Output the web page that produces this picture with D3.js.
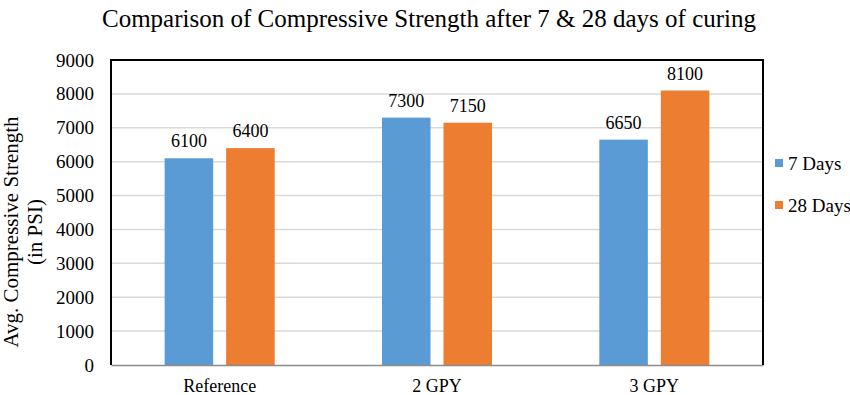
<!DOCTYPE html>
<html>
<head>
<meta charset="utf-8">
<script src="https://cdn.jsdelivr.net/npm/d3@7"></script>
<style>
  body { margin: 0; background: #fff; }
  text { font-family: "Liberation Serif", "Times New Roman", serif; fill: #000; }
</style>
</head>
<body>
<div id="viz"></div>
<script>
// data
var categories = ['Reference', '2 GPY', '3 GPY'];
var seriesNames = ['7 Days', '28 Days'];
var days7 = [6100, 7300, 6650];
var days28 = [6400, 7150, 8100];
var yTicks = [0, 1000, 2000, 3000, 4000, 5000, 6000, 7000, 8000, 9000];
var colors = ['#5B9BD5', '#ED7D31'];

var W = 850, H = 395;
var pLeft = 111, pRight = 763, pTop = 60, pBottom = 365;

var svg = d3.select('#viz')
    .append('svg')
    .attr('width', W)
    .attr('height', H);

var y = d3.scaleLinear().domain([0, 9000]).range([pBottom, pTop]);
var x0 = d3.scaleBand().domain(categories).range([pLeft, pRight]).padding(0);
var x1 = d3.scaleBand().domain(seriesNames).range([0, x0.bandwidth()])
    .paddingInner(0.211).paddingOuter(0.872);

// gridlines
svg.append('g')
    .selectAll('line')
    .data(yTicks.filter(function(d){ return d > 0 && d < 9000; }))
    .enter().append('line')
    .attr('x1', pLeft).attr('x2', pRight)
    .attr('y1', function(d){ return y(d); })
    .attr('y2', function(d){ return y(d); })
    .style('stroke', '#d9d9d9')
    .style('stroke-width', 1.5);

// y tick labels
var yAxis = svg.append('g')
    .attr('transform', 'translate(' + pLeft + ',0)')
    .call(d3.axisLeft(y).tickValues(yTicks).tickSize(0).tickPadding(17).tickFormat(d3.format('d')));
yAxis.select('.domain').remove();
yAxis.selectAll('text')
    .style('font-family', '"Liberation Serif", serif')
    .style('font-size', '19px')
    .style('fill', '#000');

// bars
var rows = categories.map(function(c, i){
    return { cat: c, vals: [days7[i], days28[i]] };
});
var groups = svg.append('g')
    .selectAll('g')
    .data(rows)
    .enter().append('g')
    .attr('transform', function(d){ return 'translate(' + x0(d.cat) + ',0)'; });

var bars = groups.selectAll('rect')
    .data(function(d){
        return d.vals.map(function(v, j){ return { name: seriesNames[j], v: v, j: j }; });
    })
    .enter();

bars.append('rect')
    .attr('x', function(d){ return x1(d.name); })
    .attr('width', x1.bandwidth())
    .attr('y', function(d){ return y(d.v); })
    .attr('height', function(d){ return y(0) - y(d.v); })
    .style('fill', function(d){ return colors[d.j]; });

bars.append('text')
    .attr('x', function(d){ return x1(d.name) + x1.bandwidth() / 2; })
    .attr('y', function(d){ return y(d.v) - 11; })
    .attr('text-anchor', 'middle')
    .style('font-size', '18px')
    .text(function(d){ return d.v; });

// x axis
var xAxis = svg.append('g')
    .attr('transform', 'translate(0,' + pBottom + ')')
    .call(d3.axisBottom(x0).tickSize(0).tickPadding(14));
xAxis.select('.domain')
    .style('stroke', '#8c8c8c')
    .style('stroke-width', 1.5);
xAxis.selectAll('text')
    .style('font-family', '"Liberation Serif", serif')
    .style('font-size', '18px')
    .style('fill', '#000');

// frame (left, top, right)
svg.append('path')
    .attr('d', 'M' + pLeft + ',' + pBottom + 'V' + pTop + 'H' + pRight + 'V' + pBottom)
    .style('fill', 'none')
    .style('stroke', '#000')
    .style('stroke-width', 2);

// title
svg.append('text')
    .attr('x', 429)
    .attr('y', 27)
    .attr('text-anchor', 'middle')
    .style('font-size', '25px')
    .text('Comparison of Compressive Strength after 7 & 28 days of curing');

// y axis label
var yl = svg.append('text')
    .attr('transform', 'translate(18,232) rotate(-90)')
    .attr('text-anchor', 'middle')
    .style('font-size', '21px');
yl.append('tspan').attr('x', 0).attr('dy', 0).text('Avg. Compressive Strength');
yl.append('tspan').attr('x', 0).attr('dy', 24).text('(in PSI)');

// legend
var legend = svg.append('g')
    .selectAll('g')
    .data(seriesNames)
    .enter().append('g')
    .attr('transform', function(d, i){ return 'translate(775,' + (163 + i * 42) + ')'; });
legend.append('rect')
    .attr('x', 0).attr('y', -4)
    .attr('width', 8).attr('height', 8)
    .style('fill', function(d, i){ return colors[i]; });
legend.append('text')
    .attr('x', 13)
    .attr('dy', '0.35em')
    .style('font-size', '19px')
    .text(function(d){ return d; });
</script>
</body>
</html>
